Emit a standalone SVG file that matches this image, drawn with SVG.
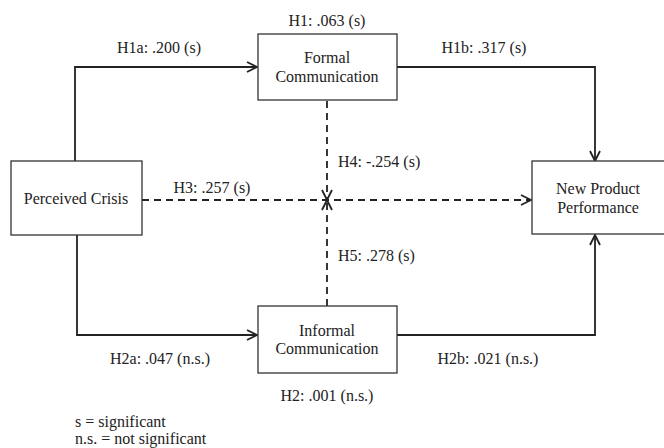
<svg xmlns="http://www.w3.org/2000/svg" width="664" height="448" viewBox="0 0 664 448">
<style>
text{font-family:"Liberation Serif","Times New Roman",serif;font-size:16px;fill:#222}
.box{fill:#fff;stroke:#333;stroke-width:1.3}
.c{fill:none;stroke:#222;stroke-width:1.8}
.d{stroke-dasharray:7,5}
.m{text-anchor:middle}
</style>
<defs>
<marker id="ah" viewBox="0 0 12 12" refX="11" refY="6" markerWidth="12" markerHeight="12" markerUnits="userSpaceOnUse" orient="auto">
<path d="M1,1 L11,6 L1,11" fill="none" stroke="#222" stroke-width="1.8"/>
</marker>
</defs>
<rect width="664" height="448" fill="#fff"/>
<g id="connectors">
<path class="c" d="M75,161 V67 H257" marker-end="url(#ah)"/>
<path class="c" d="M397,67 H595 V161" marker-end="url(#ah)"/>
<path class="c d" d="M142,200 H531" marker-end="url(#ah)"/>
<path class="c d" d="M327,101 V200" marker-end="url(#ah)"/>
<path class="c d" d="M327,306 V200" marker-end="url(#ah)"/>
<path class="c" d="M77,235 V335 H257" marker-end="url(#ah)"/>
<path class="c" d="M397,335 H595 V235" marker-end="url(#ah)"/>
</g>
<g id="labels">
<text x="327" y="26" class="m">H1: .063 (s)</text>
<text x="159" y="53" class="m">H1a: .200 (s)</text>
<text x="484" y="53" class="m">H1b: .317 (s)</text>
<text x="212" y="193" class="m">H3: .257 (s)</text>
<text x="338" y="167">H4: -.254 (s)</text>
<text x="338" y="261">H5: .278 (s)</text>
<text x="160" y="364" class="m">H2a: .047 (n.s.)</text>
<text x="488" y="364" class="m">H2b: .021 (n.s.)</text>
<text x="327" y="401" class="m">H2: .001 (n.s.)</text>
<text x="75" y="427">s = significant</text>
<text x="75" y="444">n.s. = not significant</text>
</g>
<g id="formal">
<rect class="box" x="258" y="34" width="139" height="66"/>
<text x="327" y="63" class="m">Formal</text>
<text x="327" y="82" class="m">Communication</text>
</g>
<g id="crisis">
<rect class="box" x="11" y="161" width="131" height="74"/>
<text x="76" y="204" class="m">Perceived Crisis</text>
</g>
<g id="npp">
<rect class="box" x="532" y="161" width="140" height="73"/>
<text x="598" y="194" class="m">New Product</text>
<text x="598" y="213" class="m">Performance</text>
</g>
<g id="informal">
<rect class="box" x="258" y="306" width="139" height="67"/>
<text x="327" y="336" class="m">Informal</text>
<text x="327" y="354" class="m">Communication</text>
</g>
</svg>
